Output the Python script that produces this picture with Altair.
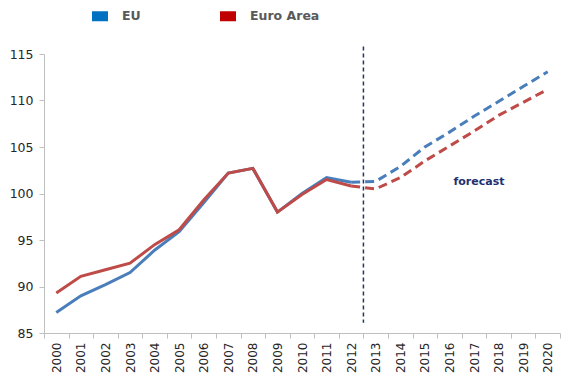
import altair as alt
import pandas as pd

years = [str(y) for y in range(2000, 2021)]
eu = [87.2, 89.0, 90.2, 91.5, 93.9, 95.9, 99.0, 102.2, 102.7, 98.0, 100.0, 101.7, 101.2,
      101.3, 102.9, 105.0, 106.6, 108.3, 109.9, 111.5, 113.1]
ea = [89.3, 91.1, 91.8, 92.5, 94.5, 96.1, 99.3, 102.2, 102.7, 98.0, 99.9, 101.5, 100.8,
      100.5, 101.7, 103.5, 105.1, 106.7, 108.4, 109.8, 111.2]
series = ["EU", "Euro Area"]
last_actual = "2012"
forecast_start = "2013"
rule_range = [115.8, 86.1]
note_text = ["forecast"]
note_year = ["2017"]
note_value = [101.2]

rows = []
for name, vals in zip(series, [eu, ea]):
    for y, v in zip(years, vals):
        rows.append({"year": y, "value": v, "series": name, "yr": int(y)})
df = pd.DataFrame(rows)
actual = df[df["yr"] <= int(last_actual)]
forecast = df[df["yr"] >= int(last_actual)]

xscale = alt.Scale(type="band", domain=years, paddingInner=0, paddingOuter=0)
yscale = alt.Scale(domain=[85, 115], nice=False, zero=False)

xenc = alt.X("year:O", scale=xscale, bandPosition=0.5, sort=years,
             axis=alt.Axis(title=None, tickBand="extent", labelAngle=270, labelAlign="right",
                           labelBaseline="middle", labelPadding=4, tickSize=5,
                           labelFontSize=12, labelColor="#262626", domainColor="#BFBFBF",
                           tickColor="#BFBFBF", labelFont="DejaVu Sans"))
yenc = alt.Y("value:Q", scale=yscale,
             axis=alt.Axis(title=None, values=[85, 90, 95, 100, 105, 110, 115], tickSize=5,
                           labelPadding=6, labelFontSize=12.5, labelColor="#262626",
                           domainColor="#BFBFBF", tickColor="#BFBFBF", grid=False,
                           labelFont="DejaVu Sans"))
stroke = alt.Stroke("series:N", scale=alt.Scale(domain=series, range=["#4A7EBB", "#BE4B48"]),
                    legend=None)

solid = alt.Chart(actual).mark_line(strokeWidth=3).encode(x=xenc, y=yenc, stroke=stroke)
dashed = alt.Chart(forecast).mark_line(strokeWidth=3, strokeDash=[9, 5]).encode(
    x=xenc, y=yenc, stroke=stroke)

legend_layer = alt.Chart(df).mark_point(opacity=0, filled=True).encode(
    x=xenc, y=yenc,
    color=alt.Color("series:N",
                    scale=alt.Scale(domain=series, range=["#0070C0", "#C00000"]),
                    legend=alt.Legend(title=None, orient="none", direction="horizontal",
                                      legendX=48, legendY=-46, padding=0,
                                      symbolType="M-1,-0.625H1V0.625H-1Z", symbolSize=256,
                                      symbolOpacity=1, symbolStrokeWidth=0,
                                      labelFontSize=12.5, labelFontWeight="bold",
                                      labelColor="#595959", labelFont="DejaVu Sans",
                                      labelOffset=14, columnPadding=79)))

rule_df = pd.DataFrame({"year": [forecast_start], "y1": [rule_range[0]], "y2": [rule_range[1]]})
rule = alt.Chart(rule_df).mark_rule(color="#1F3864", strokeWidth=1.5, strokeDash=[4, 3]).encode(
    x=alt.X("year:O", scale=xscale, bandPosition=0, sort=years),
    y=alt.Y("y1:Q", scale=yscale), y2="y2:Q")

note_df = pd.DataFrame({"year": note_year, "value": note_value, "text": note_text})
note = alt.Chart(note_df).mark_text(font="DejaVu Sans", fontSize=11, fontWeight="bold",
                                    color="#1F2F6F", dx=5).encode(
    x=alt.X("year:O", scale=xscale, bandPosition=0.5, sort=years),
    y=alt.Y("value:Q", scale=yscale), text="text:N")

chart = alt.layer(legend_layer, solid, dashed, rule, note).properties(
    width=516, height=279,
    padding={"left": 36, "top": 46, "right": 5, "bottom": 50},
    autosize=alt.AutoSizeParams(type="none"),
).configure_view(stroke=None)

chart.save("out.html", embed_options={"renderer": "svg", "actions": False})
